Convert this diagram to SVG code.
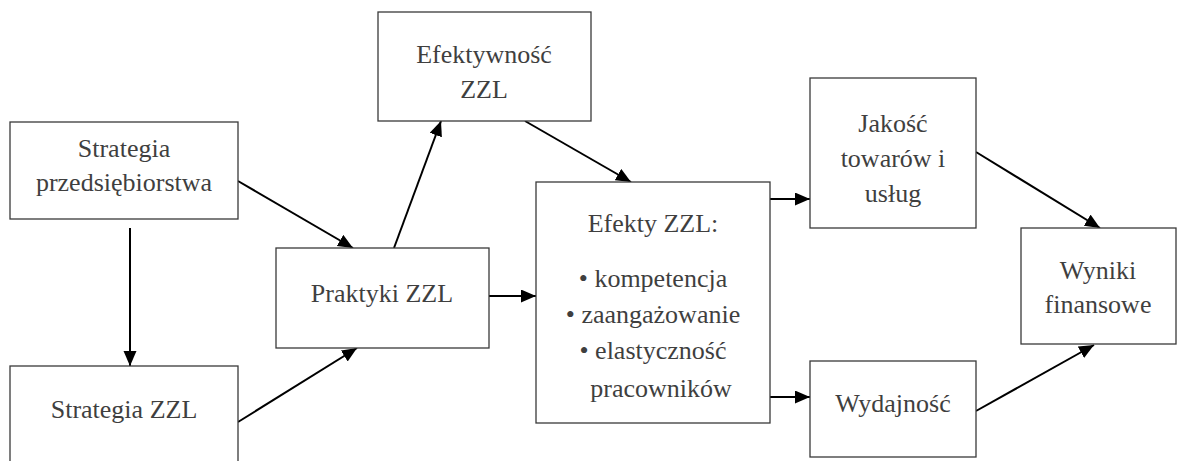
<svg xmlns="http://www.w3.org/2000/svg" width="1179" height="461" viewBox="0 0 1179 461">
  <style>
    .box { fill: #ffffff; stroke: #3a3a3a; stroke-width: 1.3; }
    .lbl { font-family: 'Liberation Serif', 'Times New Roman', 'DejaVu Serif', serif; font-size: 26px; fill: #3f3f3f; text-anchor: middle; }
    .edge { stroke: #000000; stroke-width: 2; fill: none; marker-end: url(#arrow); }
  </style>
  <defs>
    <marker id="arrow" markerUnits="userSpaceOnUse" markerWidth="16" markerHeight="14" refX="15" refY="6.5" orient="auto">
      <path d="M0,0 L15,6.5 L0,13 z" fill="#000000"/>
    </marker>
  </defs>
  <rect width="1179" height="461" fill="#ffffff"/>

  <!-- arrows between the boxes -->
  <g id="connectors">
    <line class="edge" x1="130" y1="228" x2="130" y2="366"/>
    <line class="edge" x1="238" y1="181" x2="353" y2="248"/>
    <line class="edge" x1="238" y1="422" x2="357" y2="348"/>
    <line class="edge" x1="394" y1="248" x2="441" y2="121"/>
    <line class="edge" x1="525" y1="121" x2="631" y2="182"/>
    <line class="edge" x1="489" y1="296" x2="536" y2="296"/>
    <line class="edge" x1="770" y1="199" x2="810" y2="199"/>
    <line class="edge" x1="770" y1="397" x2="810" y2="397"/>
    <line class="edge" x1="976" y1="152" x2="1100" y2="228"/>
    <line class="edge" x1="976" y1="411" x2="1094" y2="345"/>
  </g>

  <g font-family="'Liberation Serif', 'Times New Roman', serif">
    <g id="strategia-przedsiebiorstwa">
      <rect class="box" x="10" y="122" width="228" height="97"/>
      <text class="lbl" x="124" y="157">Strategia</text>
      <text class="lbl" x="124" y="191">przedsiębiorstwa</text>
    </g>

    <g id="strategia-zzl">
      <rect class="box" x="10" y="366" width="228" height="110"/>
      <text class="lbl" x="124" y="418">Strategia ZZL</text>
    </g>

    <g id="praktyki-zzl">
      <rect class="box" x="276" y="248" width="213" height="100"/>
      <text class="lbl" x="382" y="302">Praktyki ZZL</text>
    </g>

    <g id="efektywnosc-zzl">
      <rect class="box" x="378" y="12" width="213" height="109"/>
      <text class="lbl" x="484" y="63">Efektywność</text>
      <text class="lbl" x="484" y="98">ZZL</text>
    </g>

    <g id="efekty-zzl">
      <rect class="box" x="536" y="182" width="234" height="241"/>
      <text class="lbl" x="653" y="232">Efekty ZZL:</text>
      <text class="lbl" x="653" y="287">• kompetencja</text>
      <text class="lbl" x="653" y="323">• zaangażowanie</text>
      <text class="lbl" x="653" y="359">• elastyczność</text>
      <text class="lbl" x="661" y="397">pracowników</text>
    </g>

    <g id="jakosc">
      <rect class="box" x="810" y="78" width="166" height="150"/>
      <text class="lbl" x="893" y="132">Jakość</text>
      <text class="lbl" x="893" y="167">towarów i</text>
      <text class="lbl" x="893" y="202">usług</text>
    </g>

    <g id="wydajnosc">
      <rect class="box" x="810" y="361" width="166" height="96"/>
      <text class="lbl" x="893" y="412">Wydajność</text>
    </g>

    <g id="wyniki-finansowe">
      <rect class="box" x="1021" y="228" width="155" height="116"/>
      <text class="lbl" x="1098" y="279">Wyniki</text>
      <text class="lbl" x="1098" y="313">finansowe</text>
    </g>
  </g>
</svg>
